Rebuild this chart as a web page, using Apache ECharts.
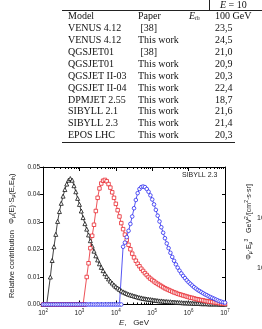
<!DOCTYPE html>
<html>
<head>
<meta charset="utf-8">
<script src="https://cdn.jsdelivr.net/npm/echarts@6/dist/echarts.min.js"></script>
<style>
  html, body { margin: 0; padding: 0; background: #fff; }
  #chart { width: 262px; height: 329px; }
</style>
</head>
<body>
<div id="chart"></div>
<script>
// table rows (top part of the figure)
const models = ['VENUS 4.12', 'VENUS 4.12', 'QGSJET01', 'QGSJET01', 'QGSJET II-03', 'QGSJET II-04',
  'DPMJET 2.55', 'SIBYLL 2.1', 'SIBYLL 2.3', 'EPOS LHC']
const papers = [' [38]', 'This work', ' [38]', 'This work', 'This work', 'This work',
  'This work', 'This work', 'This work', 'This work']
const values100 = ['23,5', '24,5', '21,0', '20,9', '20,3', '22,4', '18,7', '21,6', '21,4', '20,3']

// log10(E / GeV)
const logE = [
  2.00, 2.05, 2.10, 2.15, 2.20, 2.25, 2.30, 2.35, 2.40, 2.45,
  2.50, 2.55, 2.60, 2.65, 2.70, 2.75, 2.80, 2.85, 2.90, 2.95,
  3.00, 3.05, 3.10, 3.15, 3.20, 3.25, 3.30, 3.35, 3.40, 3.45,
  3.50, 3.55, 3.60, 3.65, 3.70, 3.75, 3.80, 3.85, 3.90, 3.95,
  4.00, 4.05, 4.10, 4.15, 4.20, 4.25, 4.30, 4.35, 4.40, 4.45,
  4.50, 4.55, 4.60, 4.65, 4.70, 4.75, 4.80, 4.85, 4.90, 4.95,
  5.00, 5.05, 5.10, 5.15, 5.20, 5.25, 5.30, 5.35, 5.40, 5.45,
  5.50, 5.55, 5.60, 5.65, 5.70, 5.75, 5.80, 5.85, 5.90, 5.95,
  6.00, 6.05, 6.10, 6.15, 6.20, 6.25, 6.30, 6.35, 6.40, 6.45,
  6.50, 6.55, 6.60, 6.65, 6.70, 6.75, 6.80, 6.85, 6.90, 6.95,
  7.00]

const black = [
  0, 0, 0, 0, 0.010, 0.016, 0.021, 0.0255, 0.0302, 0.0338,
  0.0368, 0.0394, 0.0418, 0.0438, 0.0452, 0.0458, 0.0452, 0.0432, 0.0410, 0.0386,
  0.0364, 0.0340, 0.0316, 0.0294, 0.0274, 0.0253, 0.0232, 0.0212, 0.0194, 0.0177,
  0.0162, 0.0148, 0.0135, 0.0123, 0.0112, 0.0102, 0.0093, 0.0085, 0.0078, 0.0071,
  0.0065, 0.0060, 0.0055, 0.0050, 0.0046, 0.0043, 0.0040, 0.0037, 0.0035, 0.0033,
  0.0031, 0.0029, 0.0027, 0.0025, 0.0024, 0.0022, 0.0021, 0.0020, 0.0019, 0.0018,
  0.0017, 0.0016, 0.0015, 0.0014, 0.0013, 0.0013, 0.0012, 0.0011, 0.0011, 0.0010,
  0.0010, 0.0009, 0.0009, 0.0008, 0.0008, 0.0007, 0.0007, 0.0006, 0.0006, 0.0006,
  0.0005, 0.0005, 0.0005, 0.0004, 0.0004, 0.0004, 0.0004, 0.0003, 0.0003, 0.0003,
  0.0003, 0.0002, 0.0002, 0.0002, 0.0002, 0.0002, 0.0002, 0.0001, 0.0001, 0.0001,
  0.0001]

const red = [
  0, 0, 0, 0, 0, 0, 0, 0, 0, 0,
  0, 0, 0, 0, 0, 0, 0, 0, 0, 0,
  0, 0, 0, 0, 0.010, 0.015, 0.0205, 0.025, 0.029, 0.034,
  0.0388, 0.0422, 0.0440, 0.0450, 0.0453, 0.0448, 0.0438, 0.0425, 0.0408, 0.0388,
  0.0366, 0.0343, 0.0320, 0.0296, 0.0274, 0.0254, 0.0235, 0.0217, 0.0201, 0.0185,
  0.0171, 0.0159, 0.0148, 0.0139, 0.0130, 0.0122, 0.0114, 0.0107, 0.0100, 0.0094,
  0.0089, 0.0084, 0.0079, 0.0075, 0.0071, 0.0067, 0.0063, 0.0059, 0.0056, 0.0053,
  0.0050, 0.0047, 0.0044, 0.0042, 0.0039, 0.0037, 0.0035, 0.0033, 0.0031, 0.0029,
  0.0027, 0.0025, 0.0024, 0.0022, 0.0020, 0.0019, 0.0017, 0.0016, 0.0015, 0.0013,
  0.0012, 0.0011, 0.0010, 0.0009, 0.0008, 0.0007, 0.0006, 0.0005, 0.0004, 0.0003,
  0.0002]

const blue = [
  0, 0, 0, 0, 0, 0, 0, 0, 0, 0,
  0, 0, 0, 0, 0, 0, 0, 0, 0, 0,
  0, 0, 0, 0, 0, 0, 0, 0, 0, 0,
  0, 0, 0, 0, 0, 0, 0, 0, 0, 0,
  0, 0, 0, 0, 0.021, 0.0225, 0.0245, 0.0268, 0.0293, 0.0320,
  0.0350, 0.0380, 0.0405, 0.0420, 0.0427, 0.0429, 0.0427, 0.0420, 0.0410, 0.0397,
  0.0382, 0.0364, 0.0344, 0.0323, 0.0302, 0.0281, 0.0261, 0.0241, 0.0222, 0.0205,
  0.0188, 0.0173, 0.0159, 0.0146, 0.0134, 0.0123, 0.0113, 0.0104, 0.0096, 0.0088,
  0.0081, 0.0075, 0.0069, 0.0063, 0.0058, 0.0053, 0.0049, 0.0045, 0.0041, 0.0037,
  0.0034, 0.0030, 0.0027, 0.0024, 0.0021, 0.0018, 0.0015, 0.0012, 0.0010, 0.0008,
  0.0007]

const decades = [2, 3, 4, 5, 6, 7]

var minorTicks = []
decades.slice(0, -1).forEach(d => {
  for (let k = 2; k <= 9; k++) minorTicks.push(d + Math.log10(k))
})

function pairs(arr) {
  return arr.map((v, i) => [logE[i], v])
}

var chart = echarts.init(document.getElementById('chart'))

var serif = 'Liberation Serif'
var sans = 'Liberation Sans'
var graphics = []

function txt(x, y, text, opts) {
  graphics.push({
    type: 'text', x: x, y: y,
    style: Object.assign({ text: text, font: '10px "' + serif + '"', fill: '#111', verticalAlign: 'middle' }, opts || {})
  })
}
function hline(x1, x2, y) {
  graphics.push({ type: 'line', shape: { x1: x1, y1: y, x2: x2, y2: y }, style: { stroke: '#222', lineWidth: 1 } })
}

// table
hline(62, 262, 10.5)
hline(62, 235, 142.5)
graphics.push({ type: 'line', shape: { x1: 209.5, y1: 0, x2: 209.5, y2: 10.5 }, style: { stroke: '#222', lineWidth: 1 } })
graphics.push({
  type: 'text', x: 220, y: 5,
  style: {
    text: '{i|E} = 10', font: '10px "' + serif + '"', fill: '#111', verticalAlign: 'middle',
    rich: { i: { fontStyle: 'italic', fontFamily: serif, fontSize: 10 } }
  }
})
txt(68, 16.5, 'Model')
txt(138, 16.5, 'Paper')
graphics.push({
  type: 'text', x: 189, y: 16.5,
  style: {
    text: '{i|E}{s|th}', fill: '#111', verticalAlign: 'middle',
    rich: {
      i: { fontStyle: 'italic', fontFamily: serif, fontSize: 10 },
      s: { fontStyle: 'italic', fontFamily: serif, fontSize: 6, padding: [4, 0, 0, 0] }
    }
  }
})
txt(215, 16.5, '100 GeV')
models.forEach((m, i) => {
  var y = 28.5 + i * 11.9
  txt(68, y, m)
  txt(138, y, papers[i])
  txt(215, y, values100[i])
})

// chart decorations
graphics.push({
  type: 'text', x: 182, y: 175,
  style: { text: 'SIBYLL 2.3', font: '7px "' + sans + '"', fill: '#222', verticalAlign: 'middle' }
})
// clipped axis of the neighbouring panel
graphics.push({
  type: 'text', x: 249, y: 222, rotation: Math.PI / 2,
  style: {
    text: '{n|Φ}{sb|μ}{n|·E}{sb|μ}{sp|3}{n|   GeV}{sp|2}{n|/[cm}{sp|2}{n|·s·sr]}',
    align: 'center', verticalAlign: 'middle', fill: '#222',
    rich: {
      n: { fontFamily: sans, fontSize: 7, lineHeight: 9 },
      sb: { fontFamily: sans, fontSize: 5, padding: [4, 0, 0, 0] },
      sp: { fontFamily: sans, fontSize: 5, padding: [0, 0, 4, 0] }
    }
  }
})
txt(257, 218, '10', { font: '7px "' + sans + '"', fill: '#222' })
txt(257, 268, '10', { font: '7px "' + sans + '"', fill: '#222' })

var axisLine = { onZero: false, lineStyle: { color: '#000', width: 1 } }
var tickStyle = { color: '#000', width: 1 }

var option = {
  animation: false,
  backgroundColor: '#fff',
  grid: { left: 28, right: 37, top: 167, bottom: 24.5 },
  xAxis: [
    {
      type: 'value', position: 'bottom', min: 2, max: 7, interval: 1,
      axisLine: axisLine,
      axisTick: { inside: true, length: 4, lineStyle: tickStyle },
      splitLine: { show: false },
      axisLabel: {
        margin: 4, color: '#222',
        formatter: v => '{b|10}{s|' + v + '}',
        rich: {
          b: { fontFamily: sans, fontSize: 6.5, lineHeight: 8 },
          s: { fontFamily: sans, fontSize: 4.5, padding: [0, 0, 4, 0] }
        }
      },
      name: '{i|E},   GeV', nameLocation: 'middle', nameGap: 14,
      nameTextStyle: {
        color: '#222', fontFamily: sans, fontSize: 8,
        rich: { i: { fontFamily: sans, fontSize: 8, fontStyle: 'italic', color: '#222' } }
      }
    },
    {
      type: 'value', position: 'bottom', min: 2, max: 7,
      axisLine: { show: false, onZero: false }, splitLine: { show: false }, axisLabel: { show: false },
      axisTick: { inside: true, length: 2, lineStyle: tickStyle, customValues: minorTicks }
    },
    {
      type: 'value', position: 'top', min: 2, max: 7, interval: 1,
      axisLine: axisLine, splitLine: { show: false }, axisLabel: { show: false },
      axisTick: { inside: true, length: 4, lineStyle: tickStyle }
    },
    {
      type: 'value', position: 'top', min: 2, max: 7,
      axisLine: { show: false, onZero: false }, splitLine: { show: false }, axisLabel: { show: false },
      axisTick: { inside: true, length: 2, lineStyle: tickStyle, customValues: minorTicks }
    }
  ],
  yAxis: [
    {
      type: 'value', position: 'left', min: 0, max: 0.05, interval: 0.01,
      axisLine: axisLine,
      axisTick: { show: true, inside: false, length: 3, lineStyle: tickStyle },
      splitLine: { show: false },
      axisLabel: { margin: 3, color: '#222', fontFamily: sans, fontSize: 6.5, formatter: v => v.toFixed(2) },
      name: '{n|Relative contribution   Φ}{sb|μ}{n|(E)·S}{sb|μ}{n|(E,E}{sb|th}{n|)}',
      nameLocation: 'middle', nameGap: 18, nameRotate: 90,
      nameTextStyle: {
        color: '#222',
        rich: {
          n: { fontFamily: sans, fontSize: 7.5, lineHeight: 9, color: '#222' },
          sb: { fontFamily: sans, fontSize: 5, padding: [4, 0, 0, 0], color: '#222' }
        }
      }
    },
    {
      type: 'value', position: 'right', min: 0, max: 0.05, interval: 0.01,
      axisLine: axisLine,
      axisTick: { show: true, inside: true, length: 3, lineStyle: tickStyle },
      splitLine: { show: false }, axisLabel: { show: false }
    }
  ],
  graphic: graphics,
  series: [
    {
      type: 'line', data: pairs(black), symbol: 'triangle', symbolSize: 4,
      lineStyle: { color: '#111', width: 0.8 },
      itemStyle: { color: '#fff', borderColor: '#111', borderWidth: 0.8 }
    },
    {
      type: 'line', data: pairs(red), symbol: 'rect', symbolSize: 3.5,
      lineStyle: { color: '#e8262d', width: 0.8 },
      itemStyle: { color: '#fff', borderColor: '#e8262d', borderWidth: 0.8 }
    },
    {
      type: 'line', data: pairs(blue), symbol: 'circle', symbolSize: 3.6,
      lineStyle: { color: '#2b2bf0', width: 0.8 },
      itemStyle: { color: '#fff', borderColor: '#2b2bf0', borderWidth: 0.8 }
    }
  ]
}

chart.setOption(option)
</script>
</body>
</html>
